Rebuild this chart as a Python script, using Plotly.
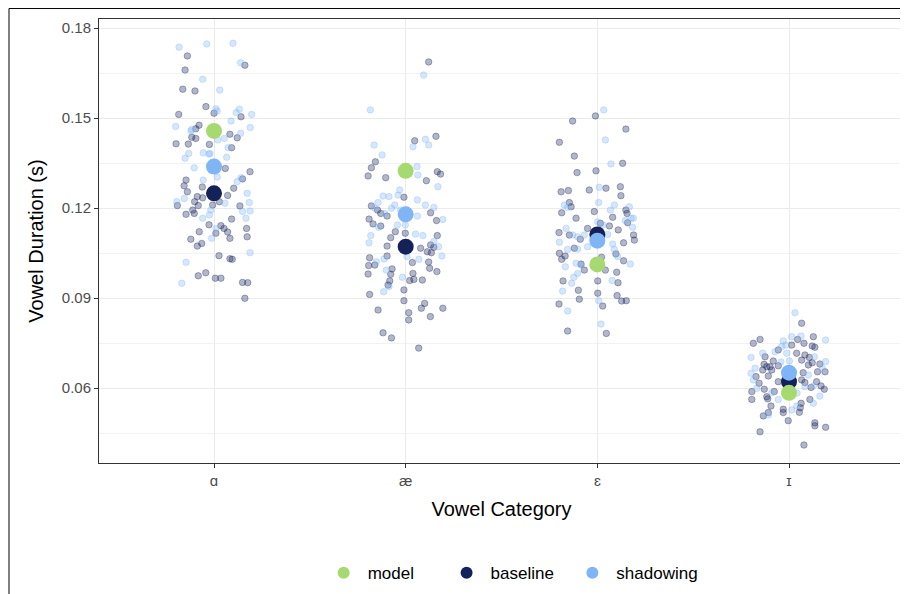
import plotly.graph_objects as go

categories = ["ɑ", "æ", "ɛ", "ɪ"]

model_means = [0.1457, 0.1324, 0.1012, 0.0584]
baseline_means = [0.1249, 0.1071, 0.1112, 0.0621]
shadowing_means = [0.1338, 0.1179, 0.1091, 0.0651]

# individual tokens: durations (s) and horizontal jitter offsets (category units)
baseline_a_dur = [0.1707, 0.1676, 0.1660, 0.1596, 0.1590, 0.1538, 0.1516, 0.1512, 0.1504, 0.1476,
                  0.1464, 0.1446, 0.1436, 0.1432, 0.1434, 0.1414, 0.1413, 0.1412, 0.1401, 0.1332,
                  0.1293, 0.1321, 0.1297, 0.1274, 0.1254, 0.1270, 0.1242, 0.1238, 0.1234, 0.1221,
                  0.1221, 0.1208, 0.1208, 0.1207, 0.1193, 0.1179, 0.1182, 0.1210, 0.1163, 0.1144,
                  0.1141, 0.1132, 0.1120, 0.1132, 0.1121, 0.1116, 0.1104, 0.1096, 0.1099, 0.1082,
                  0.1073, 0.1041, 0.1031, 0.1029, 0.0984, 0.0974, 0.0966, 0.0966, 0.0952, 0.0951,
                  0.0899, 0.1266]
baseline_a_jit = [-0.139, 0.161, -0.151, -0.163, -0.099, -0.042, 0.000, -0.184, 0.141, -0.078,
                  -0.095, 0.083, -0.116, -0.095, 0.121, -0.198, -0.134, -0.024, 0.092, 0.059,
                  -0.146, 0.188, 0.149, -0.156, -0.139, -0.061, 0.071, -0.087, -0.059, 0.028,
                  -0.101, -0.191, -0.082, 0.135, -0.111, -0.146, -0.103, -0.007, 0.092, -0.026,
                  0.036, 0.052, 0.071, 0.170, -0.077, 0.010, 0.173, -0.121, 0.083, -0.064,
                  -0.087, 0.026, 0.083, 0.095, -0.043, -0.082, 0.007, 0.036, 0.149, 0.176,
                  0.161, 0.103]

shadowing_a_dur = [0.1736, 0.1747, 0.1749, 0.1684, 0.1629, 0.1593, 0.1531, 0.1523, 0.1518, 0.1529,
                   0.1512, 0.1490, 0.1472, 0.1468, 0.1462, 0.1449, 0.1432, 0.1427, 0.1401, 0.1382,
                   0.1366, 0.1380, 0.1369, 0.1384, 0.1334, 0.1303, 0.1293, 0.1301, 0.1288, 0.1249,
                   0.1232, 0.1221, 0.1216, 0.1218, 0.1190, 0.1188, 0.1193, 0.1177, 0.1166, 0.1166,
                   0.1132, 0.1099, 0.1051, 0.1019, 0.0949, 0.1382, 0.1457]
shadowing_a_jit = [-0.182, -0.038, 0.099, 0.139, -0.059, 0.030, 0.010, 0.017, 0.116, 0.132,
                   0.196, 0.089, -0.200, 0.189, -0.116, 0.139, 0.054, 0.019, 0.074, -0.132,
                   -0.151, -0.026, 0.066, -0.056, -0.103, 0.017, -0.056, 0.141, 0.121, 0.173,
                   -0.155, -0.194, 0.057, 0.184, 0.188, 0.149, -0.017, -0.024, -0.059, 0.167,
                   0.010, -0.012, 0.188, -0.146, -0.168, -0.021, -0.120]

baseline_ae_dur = [0.1687, 0.1424, 0.1439, 0.1354, 0.1334, 0.1307, 0.1301, 0.1321, 0.1313, 0.1291,
                   0.1236, 0.1207, 0.1193, 0.1182, 0.1173, 0.1163, 0.1147, 0.1140, 0.1184, 0.1158,
                   0.1121, 0.1101, 0.1116, 0.1108, 0.1073, 0.1066, 0.1077, 0.1069, 0.1054, 0.1051,
                   0.1040, 0.1034, 0.1018, 0.1020, 0.1008, 0.1010, 0.0997, 0.0982, 0.0999, 0.0988,
                   0.0980, 0.0979, 0.0962, 0.0958, 0.0960, 0.0957, 0.0943, 0.0927, 0.0912, 0.0891,
                   0.0882, 0.0866, 0.0860, 0.0866, 0.0851, 0.0838, 0.0827, 0.0784, 0.0767, 0.0733]
baseline_ae_jit = [0.120, 0.047, 0.158, -0.158, -0.179, -0.196, -0.104, 0.165, 0.182, 0.108,
                   -0.009, -0.179, -0.147, -0.130, -0.097, -0.191, -0.170, -0.130, 0.130, 0.161,
                   -0.054, -0.078, -0.002, 0.165, -0.097, 0.078, 0.130, 0.147, 0.113, 0.134,
                   -0.097, -0.188, 0.035, 0.120, -0.193, -0.161, -0.071, 0.038, 0.125, 0.163,
                   -0.196, -0.078, 0.043, 0.021, 0.087, -0.083, -0.092, -0.009, -0.188, -0.009,
                   0.099, 0.082, -0.144, 0.194, 0.016, 0.129, 0.016, -0.118, -0.074, 0.068]

shadowing_ae_dur = [0.1527, 0.1643, 0.1410, 0.1377, 0.1429, 0.1410, 0.1404, 0.1338, 0.1310, 0.1271,
                    0.1260, 0.1243, 0.1240, 0.1238, 0.1218, 0.1227, 0.1210, 0.1202, 0.1210, 0.1199,
                    0.1199, 0.1182, 0.1173, 0.1162, 0.1143, 0.1143, 0.1136, 0.1113, 0.1108, 0.1108,
                    0.1084, 0.1088, 0.1071, 0.1040, 0.1029, 0.1021, 0.1038, 0.1030, 0.0993, 0.0969,
                    0.0938, 0.0921, 0.1193]
shadowing_ae_jit = [-0.184, 0.094, -0.165, -0.123, 0.103, 0.120, 0.038, 0.059, 0.064, 0.168,
                    -0.031, -0.040, -0.118, -0.087, -0.144, 0.061, 0.103, 0.147, -0.057, -0.074,
                    -0.161, -0.109, 0.061, 0.194, -0.043, -0.002, -0.141, 0.051, 0.090, -0.182,
                    -0.191, 0.147, 0.172, 0.189, 0.069, -0.153, 0.007, -0.113, -0.101, -0.017,
                    -0.087, -0.115, -0.026]

baseline_e_dur = [0.1507, 0.1490, 0.1463, 0.1419, 0.1373, 0.1349, 0.1318, 0.1324, 0.1254, 0.1258,
                  0.1260, 0.1266, 0.1271, 0.1241, 0.1218, 0.1204, 0.1184, 0.1188, 0.1193, 0.1182,
                  0.1166, 0.1169, 0.1149, 0.1140, 0.1151, 0.1127, 0.1132, 0.1118, 0.1110, 0.1110,
                  0.1093, 0.1096, 0.1084, 0.1066, 0.1049, 0.1040, 0.1029, 0.1036, 0.1047, 0.1024,
                  0.1013, 0.0993, 0.0993, 0.0986, 0.0957, 0.0957, 0.0951, 0.0926, 0.0916, 0.0908,
                  0.0896, 0.0880, 0.0873, 0.0890, 0.0891, 0.0790, 0.0782]
baseline_e_jit = [-0.010, -0.129, 0.149, -0.198, -0.120, 0.132, -0.106, -0.007, -0.189, -0.151,
                  -0.042, 0.045, 0.120, 0.123, -0.146, -0.137, -0.186, -0.016, 0.149, 0.155,
                  -0.111, 0.080, 0.016, 0.063, 0.158, 0.109, -0.051, -0.200, -0.146, 0.189,
                  0.193, -0.089, 0.137, -0.120, -0.198, -0.168, -0.186, 0.022, 0.097, 0.137,
                  -0.085, -0.068, 0.042, 0.101, -0.179, 0.002, 0.108, -0.099, 0.002, 0.103,
                  -0.094, -0.200, 0.028, 0.127, 0.151, -0.155, 0.047]

shadowing_e_dur = [0.1527, 0.1427, 0.1347, 0.1269, 0.1218, 0.1210, 0.1193, 0.1204, 0.1210, 0.1202,
                   0.1166, 0.1166, 0.1158, 0.1154, 0.1143, 0.1132, 0.1136, 0.1110, 0.1104, 0.1110,
                   0.1112, 0.1080, 0.1086, 0.1062, 0.1063, 0.1071, 0.1062, 0.1038, 0.1004, 0.1016,
                   0.1010, 0.1013, 0.0982, 0.0969, 0.0949, 0.0958, 0.0923, 0.0891, 0.0857, 0.0813]
shadowing_e_jit = [0.033, 0.042, 0.071, 0.010, 0.007, 0.089, 0.068, 0.167, -0.172, -0.155,
                   0.176, 0.188, 0.146, 0.002, 0.028, -0.163, 0.184, -0.129, -0.103, -0.068,
                   0.054, 0.080, -0.198, -0.155, -0.103, -0.051, 0.089, 0.106, -0.167, -0.111,
                   -0.085, 0.172, -0.103, -0.123, -0.134, 0.077, -0.181, 0.007, -0.155, 0.019]

baseline_i_dur = [0.0816, 0.0749, 0.0762, 0.0743, 0.0762, 0.0749, 0.0771, 0.0740, 0.0736, 0.0727,
                  0.0716, 0.0710, 0.0702, 0.0704, 0.0684, 0.0693, 0.0680, 0.0690, 0.0679, 0.0671,
                  0.0671, 0.0674, 0.0660, 0.0660, 0.0677, 0.0654, 0.0654, 0.0651, 0.0638, 0.0640,
                  0.0621, 0.0627, 0.0618, 0.0621, 0.0616, 0.0596, 0.0588, 0.0588, 0.0602, 0.0607,
                  0.0596, 0.0571, 0.0562, 0.0564, 0.0562, 0.0549, 0.0534, 0.0540, 0.0529, 0.0518,
                  0.0519, 0.0507, 0.0518, 0.0491, 0.0484, 0.0474, 0.0469, 0.0454, 0.0410]
baseline_i_jit = [0.066, -0.186, -0.151, 0.014, 0.045, 0.078, 0.127, 0.121, 0.135, -0.056,
                  0.040, 0.083, 0.106, -0.125, 0.121, 0.066, 0.161, -0.082, -0.130, -0.116,
                  -0.099, -0.056, -0.137, -0.090, 0.101, 0.188, 0.149, 0.074, -0.172, -0.108,
                  -0.056, 0.066, 0.083, 0.144, -0.156, -0.129, -0.077, -0.194, 0.115, 0.167,
                  0.184, -0.116, -0.194, -0.111, 0.109, 0.063, 0.059, -0.094, -0.030, -0.030,
                  0.054, -0.134, -0.108, -0.004, 0.135, 0.135, 0.191, -0.151, 0.078]

shadowing_i_dur = [0.0851, 0.0757, 0.0771, 0.0773, 0.0760, 0.0738, 0.0743, 0.0721, 0.0716, 0.0716,
                   0.0704, 0.0702, 0.0690, 0.0688, 0.0666, 0.0649, 0.0666, 0.0627, 0.0643, 0.0604,
                   0.0607, 0.0599, 0.0584, 0.0549, 0.0573, 0.0562, 0.0527, 0.0510, 0.0540, 0.0687,
                   0.0583]
shadowing_i_jit = [0.031, -0.030, 0.014, 0.063, 0.191, -0.038, -0.017, -0.073, -0.137, -0.012,
                   0.132, -0.198, 0.002, 0.191, -0.177, -0.198, 0.173, -0.186, 0.101, 0.083,
                   0.127, -0.168, -0.090, 0.127, 0.161, -0.056, 0.014, -0.108, 0.040, -0.042,
                   0.042]

baseline_tokens = [(baseline_a_dur, baseline_a_jit), (baseline_ae_dur, baseline_ae_jit),
                   (baseline_e_dur, baseline_e_jit), (baseline_i_dur, baseline_i_jit)]
shadowing_tokens = [(shadowing_a_dur, shadowing_a_jit), (shadowing_ae_dur, shadowing_ae_jit),
                    (shadowing_e_dur, shadowing_e_jit), (shadowing_i_dur, shadowing_i_jit)]

COL_MODEL = "#a6d96f"
COL_BASE = "#14225a"
COL_SHAD = "#7fb4f6"

FONT = "Liberation Sans, Arial, Helvetica, sans-serif"

fig = go.Figure()


def add_tokens(tokens, rgba, name):
    xs, ys = [], []
    for i, (dur, jit) in enumerate(tokens):
        xs += [i + j for j in jit]
        ys += dur
    fig.add_trace(go.Scatter(
        x=xs, y=ys, mode="markers", showlegend=False, legendgroup=name, hoverinfo="skip",
        marker=dict(size=6.5, color=rgba, line=dict(color=rgba, width=1)),
    ))


add_tokens(baseline_tokens, "rgba(20,34,90,0.33)", "baseline")
add_tokens(shadowing_tokens, "rgba(127,180,246,0.32)", "shadowing")

xcat = list(range(len(categories)))
fig.add_trace(go.Scatter(x=xcat, y=baseline_means, mode="markers", name="baseline  ",
                         legendgroup="baseline", legendrank=2,
                         marker=dict(size=16, color=COL_BASE)))
fig.add_trace(go.Scatter(x=xcat, y=shadowing_means, mode="markers", name="shadowing",
                         legendgroup="shadowing", legendrank=3,
                         marker=dict(size=16, color=COL_SHAD)))
fig.add_trace(go.Scatter(x=xcat, y=model_means, mode="markers", name="model     ",
                         legendgroup="model", legendrank=1,
                         marker=dict(size=16, color=COL_MODEL)))

# outer figure border
fig.add_shape(type="rect", xref="paper", yref="paper",
              x0=-0.1118, x1=1.0037, y0=-0.35, y1=1.0237,
              line=dict(color="black", width=1), fillcolor="rgba(0,0,0,0)", layer="above")

fig.update_layout(
    width=900, height=586,
    margin=dict(l=91, r=4, t=11, b=131, autoexpand=False),
    paper_bgcolor="white", plot_bgcolor="white",
    font=dict(family=FONT, color="black"),
    showlegend=True,
    legend=dict(orientation="h", x=0.512, xanchor="center", y=-0.248, yanchor="middle",
                font=dict(size=17, color="black"), itemsizing="constant",
                traceorder="normal", itemwidth=38),
    xaxis=dict(
        range=[-0.6, 3.6], tickmode="array", tickvals=xcat, ticktext=categories,
        showgrid=True, gridcolor="#ebebeb", gridwidth=1.2, zeroline=False,
        showline=True, linecolor="#333333", linewidth=1, mirror=True,
        ticks="outside", ticklen=4, tickcolor="#333333", automargin=False,
        tickfont=dict(size=15, color="#4d4d4d"),
        title=dict(text="Vowel Category", font=dict(size=20, color="black"), standoff=13),
    ),
    yaxis=dict(
        range=[0.035, 0.183], tickmode="linear", tick0=0.06, dtick=0.03,
        tickformat=".2f", automargin=False,
        showgrid=True, gridcolor="#ebebeb", gridwidth=1.2, zeroline=False,
        showline=True, linecolor="#333333", linewidth=1, mirror=True,
        ticks="outside", ticklen=4, tickcolor="#333333",
        tickfont=dict(size=15, color="#4d4d4d"),
        minor=dict(tick0=0.045, dtick=0.03, showgrid=True, gridcolor="#f2f2f2", gridwidth=0.8,
                   ticks=""),
        title=dict(text="Vowel Duration (s)", font=dict(size=20, color="black"), standoff=12),
    ),
)

fig.write_html("out.html")
